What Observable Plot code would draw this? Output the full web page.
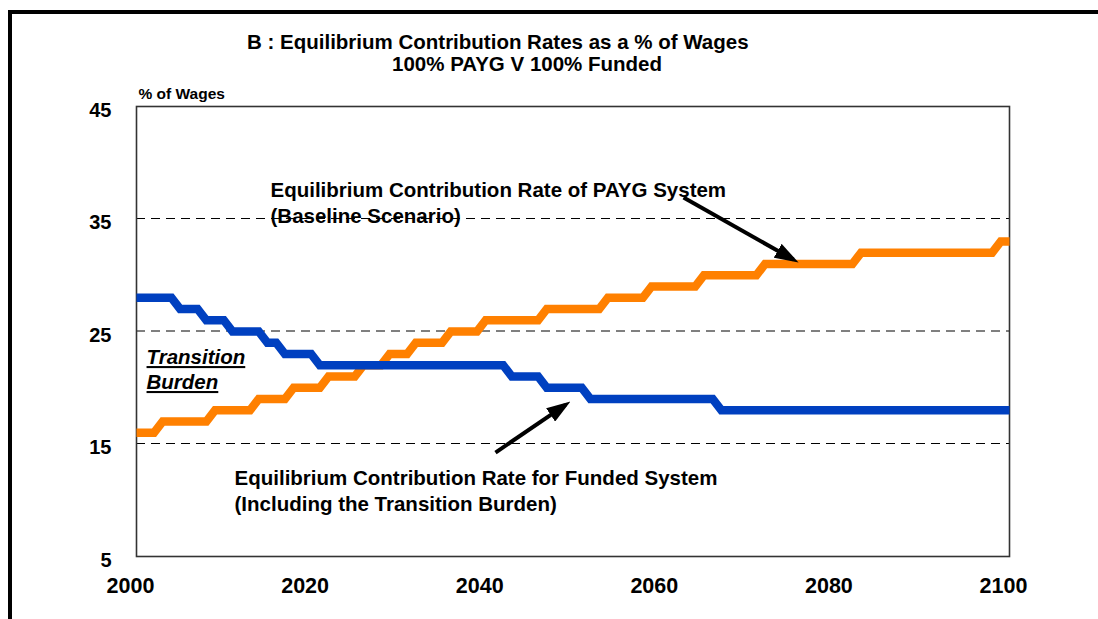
<!DOCTYPE html>
<html><head><meta charset="utf-8">
<script src="https://cdn.jsdelivr.net/npm/d3@7"></script>
<script src="https://cdn.jsdelivr.net/npm/@observablehq/plot@0.6"></script>
<style>
html,body{margin:0;padding:0;background:#fff;}
#wrap{position:relative;width:1098px;height:619px;overflow:hidden;font-family:"Liberation Sans",Arial,sans-serif;}
#border{position:absolute;left:8px;top:10px;width:1200px;height:700px;border-top:4px solid #000;border-left:4px solid #000;}
.t{position:absolute;font-weight:bold;font-size:20.5px;line-height:20.5px;white-space:nowrap;color:#000;}
#chart{position:absolute;left:0;top:0;}
</style></head><body>
<div id="wrap">
<div id="chart"></div>
<div id="border"></div>
<div class="t" id="title" style="left:247px;top:32px">B : Equilibrium Contribution Rates as a % of Wages</div>
<div class="t" id="subtitle" style="left:392px;top:54px">100% PAYG V 100% Funded</div>
</div>
<script>
const years = d3.range(2000, 2101);
const fundedRate = [
  28,28,28,28,28,27,27,27,26,26,
  26,25,25,25,25,24,24,23,23,23,
  23,22,22,22,22,22,22,22,22,22,
  22,22,22,22,22,22,22,22,22,22,
  22,22,22,21,21,21,21,20,20,20,
  20,20,19,19,19,19,19,19,19,19,
  19,19,19,19,19,19,19,18,18,18,
  18,18,18,18,18,18,18,18,18,18,
  18,18,18,18,18,18,18,18,18,18,
  18,18,18,18,18,18,18,18,18,18,
  18
];
const paygRate = [
  16,16,16,17,17,17,17,17,17,18,
  18,18,18,18,19,19,19,19,20,20,
  20,20,21,21,21,21,22,22,22,23,
  23,23,24,24,24,24,25,25,25,25,
  26,26,26,26,26,26,26,27,27,27,
  27,27,27,27,28,28,28,28,28,29,
  29,29,29,29,29,30,30,30,30,30,
  30,30,31,31,31,31,31,31,31,31,
  31,31,31,32,32,32,32,32,32,32,
  32,32,32,32,32,32,32,32,32,33,
  33
];
const yTicks = [5, 15, 25, 35, 45];
const gridValues = [15, 25, 35];
const xTicks = [2000, 2020, 2040, 2060, 2080, 2100];
const paygColor = "#FF8000";
const fundedColor = "#0040C0";
const yAxisLabel = "% of Wages";

const noteYears = [2015.35, 2015.35, 2011.23, 2011.23];
const noteValues = [37.53, 35.22, 11.93, 9.62];
const noteTexts = [
  "Equilibrium Contribution Rate of PAYG System",
  "(Baseline Scenario)",
  "Equilibrium Contribution Rate for Funded System",
  "(Including the Transition Burden)"
];
const burdenYears = [2001.15, 2001.15];
const burdenValues = [22.69, 20.47];
const burdenTexts = ["Transition", "Burden"];
const arrowX1 = [2062.66, 2041.12];
const arrowY1 = [36.91, 14.24];
const arrowX2 = [2075.24, 2049.14];
const arrowY2 = [31.39, 18.48];

const paygData = years.map((year, i) => ({year, value: paygRate[i]}));
const fundedData = years.map((year, i) => ({year, value: fundedRate[i]}));
const notes = noteTexts.map((text, i) => ({year: noteYears[i], value: noteValues[i], text}));
const burden = burdenTexts.map((text, i) => ({year: burdenYears[i], value: burdenValues[i], text}));
const arrows = arrowX1.map((x1, i) => ({x1, y1: arrowY1[i], x2: arrowX2[i], y2: arrowY2[i]}));

const svg = Plot.plot({
  width: 1098,
  height: 619,
  marginLeft: 136,
  marginRight: 89,
  marginTop: 106,
  marginBottom: 63,
  style: {fontFamily: "'Liberation Sans', Arial, sans-serif", background: "transparent", color: "#000"},
  x: {domain: [2000, 2100]},
  y: {domain: [5, 45]},
  marks: [
    Plot.ruleY(gridValues, {stroke: "#000", strokeWidth: 1, strokeDasharray: "9,6", dy: -0.5}),
    Plot.frame({stroke: "#333", strokeWidth: 1.6}),
    Plot.axisY(yTicks, {tickSize: 0, tickPadding: 25, fontSize: 20, fontWeight: "bold", dy: 4, label: null}),
    Plot.axisX(xTicks, {tickSize: 0, tickPadding: 21, fontSize: 21.5, fontWeight: "bold", dx: -6, label: null, tickFormat: d => String(d)}),
    Plot.text([yAxisLabel], {frameAnchor: "top-left", text: d => d, dx: 2, dy: -8, lineAnchor: "bottom", textAnchor: "start", fontSize: 15.5, fontWeight: "bold"}),
    Plot.line(paygData, {x: "year", y: "value", stroke: paygColor, strokeWidth: 8.5, strokeLinejoin: "miter", strokeMiterlimit: 4, strokeLinecap: "butt"}),
    Plot.line(fundedData, {x: "year", y: "value", stroke: fundedColor, strokeWidth: 8.5, strokeLinejoin: "miter", strokeMiterlimit: 4, strokeLinecap: "butt"}),
    Plot.text(notes, {x: "year", y: "value", text: "text", textAnchor: "start", fontSize: 20.5, fontWeight: "bold"}),
    Plot.text(burden, {x: "year", y: "value", text: "text", textAnchor: "start", fontSize: 20.5, fontWeight: "bold", fontStyle: "italic"}),
    Plot.link(arrows, {x1: "x1", y1: "y1", x2: "x2", y2: "y2", stroke: "#000", strokeWidth: 4, strokeLinecap: "butt", markerEnd: "arrow"})
  ]
});

const s = d3.select(svg);
s.selectAll("marker").each(function() {
  const m = d3.select(this);
  m.selectAll("*").remove();
  m.attr("viewBox", "-9 -4 12 8")
   .attr("markerUnits", "userSpaceOnUse")
   .attr("markerWidth", 24)
   .attr("markerHeight", 16)
   .attr("refX", 0).attr("refY", 0)
   .attr("orient", "auto")
   .attr("fill", "#000").attr("stroke", "none");
  m.append("path").attr("d", "M-9,-4L3,0L-9,4Z");
});
s.selectAll("text").filter(function() { return burdenTexts.includes(this.textContent); })
  .style("text-decoration", "underline")
  .style("text-decoration-thickness", "3px")
  .style("text-underline-offset", "4px");

document.getElementById("chart").appendChild(svg);
</script>
</body></html>
